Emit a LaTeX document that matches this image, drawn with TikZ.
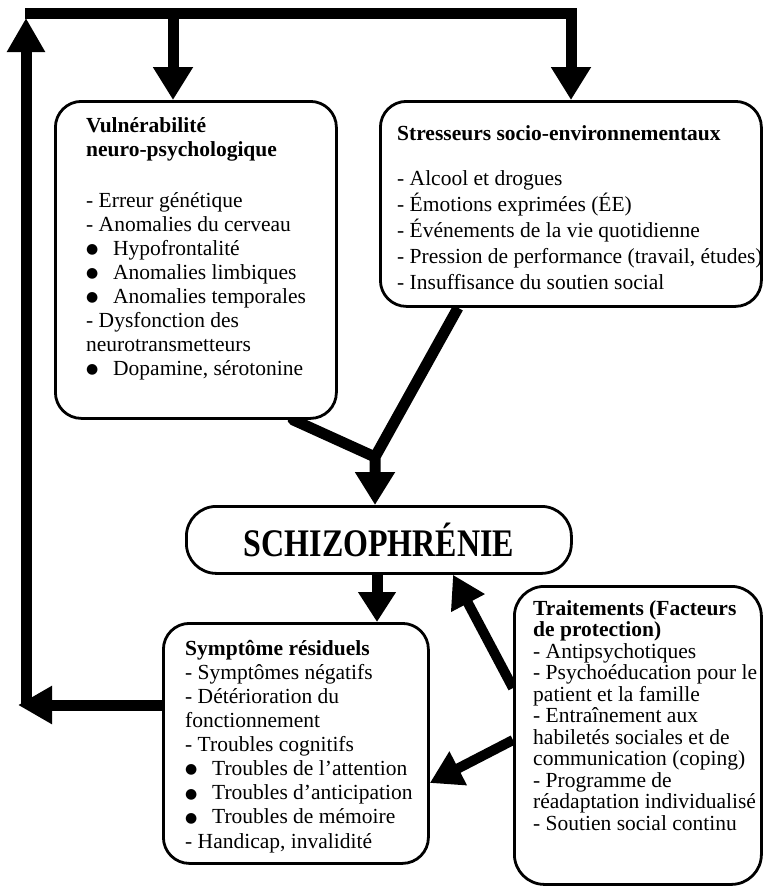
\documentclass[tikz,border=0pt]{standalone}
\usepackage{fontspec}
\usepackage{graphicx}
\setmainfont{Liberation Serif}
\newfontfamily\symfont{DejaVu Sans}
\usetikzlibrary{arrows.meta,backgrounds}
\newcommand{\bul}{\makebox[27pt][l]{\raisebox{1.8pt}{\symfont\fontsize{14}{18}\selectfont ●}}}
\begin{document}
\begin{tikzpicture}[x=1pt,y=-1pt,
  box/.style={draw, line width=2.8pt, rounded corners=26pt, inner sep=0pt, fill=white, anchor=north west},
  txt/.style={anchor=base west, align=left, inner sep=0pt},
  ln/.style={line width=11pt},
  arr/.style={line width=11pt, -{Triangle[length=33pt,width=38pt]}},
]
\useasboundingbox (0,0) rectangle (763,886);

% boxes
\node[box, minimum width=281pt, minimum height=317pt] (v) at (54,100) {};
\node[box, minimum width=381pt, minimum height=205pt] (s) at (379,100) {};
\node[box, minimum width=385pt, minimum height=67pt, rounded corners=30pt] (sch) at (185,505) {};
\node[box, minimum width=265pt, minimum height=240pt] (sym) at (162,622) {};
\node[box, minimum width=247pt, minimum height=298pt, rounded corners=30pt] (tr) at (513,585) {};

% texts (anchored at the baseline of the last line)
\node[txt, font=\fontsize{21.5}{23.9}\selectfont] (vt) at (86,375) {%
\textbf{Vulnérabilité}\\
\textbf{neuro-psychologique}\\[27pt]
- Erreur génétique\\
- Anomalies du cerveau\\
\bul Hypofrontalité\\
\bul Anomalies limbiques\\
\bul Anomalies temporales\\
- Dysfonction des\\
neurotransmetteurs\\
\bul Dopamine, sérotonine};

\node[txt, font=\fontsize{21.5}{26}\selectfont] (st) at (397,289) {%
\textbf{Stresseurs socio-environnementaux}\\[19pt]
- Alcool et drogues\\
- Émotions exprimées (ÉE)\\
- Événements de la vie quotidienne\\
- Pression de performance (travail, études)\\
- Insuffisance du soutien social};

\node[font=\bfseries\fontsize{32}{36}\selectfont, inner sep=0pt] (scht) at (sch.center) {\scalebox{1}[1.22]{SCHIZOPHRÉNIE}};

\node[txt, font=\fontsize{21.5}{24.1}\selectfont] (symt) at (185,848) {%
\textbf{Symptôme résiduels}\\
- Symptômes négatifs\\
- Détérioration du\\
fonctionnement\\
- Troubles cognitifs\\
\bul Troubles de l’attention\\
\bul Troubles d’anticipation\\
\bul Troubles de mémoire\\
- Handicap, invalidité};

\node[txt, font=\fontsize{21.5}{21.5}\selectfont] (trt) at (533,830) {%
\textbf{Traitements (Facteurs}\\
\textbf{de protection)}\\
- Antipsychotiques\\
- Psychoéducation pour le\\
patient et la famille\\
- Entraînement aux\\
habiletés sociales et de\\
communication (coping)\\
- Programme de\\
réadaptation individualisé\\
- Soutien social continu};

% helper coordinates
\coordinate (ta) at (25,13);
\coordinate (tb) at (571,13);
\coordinate (tc) at (173,13);
\coordinate (lb) at (26,705);
\coordinate (lt) at (26,18);
\coordinate (lm) at (18,705);
\coordinate (m) at (375,457);
\coordinate (vx) at (293,0);
\coordinate (sx) at (458,0);
\coordinate (dx) at (377,0);
\coordinate (t1) at (0,688);
\coordinate (c453) at (453,0);
\coordinate (t2) at (0,740);
\coordinate (c783) at (0,783);

\begin{scope}[on background layer]
\draw[arr, line join=miter] (ta) -- (tb) -- (tb |- s.north);
\draw[arr] (tc) -- (tc |- v.north);
\draw[ln, -{Triangle[length=34pt,width=36pt]}] (lb) -- (lt);
\draw[arr, -{Triangle[length=34pt,width=36pt]}] (sym.west |- lm) -- (lm);
\draw[ln, line cap=round] (v.south -| vx) -- (m);
\draw[arr, line join=round] (s.south -| sx) -- (m) -- (m |- sch.north);
\draw[arr, -{Triangle[length=30pt,width=36pt]}] (sch.south -| dx) -- (sym.north -| dx);
\draw[arr, line width=10pt, -{Triangle[length=32pt,width=36pt]}] (tr.west |- t1) -- (sch.south -| c453);
\draw[arr, line width=10pt, -{Triangle[length=32pt,width=36pt]}] (tr.west |- t2) -- (sym.east |- c783);
\end{scope}
\end{tikzpicture}
\end{document}
